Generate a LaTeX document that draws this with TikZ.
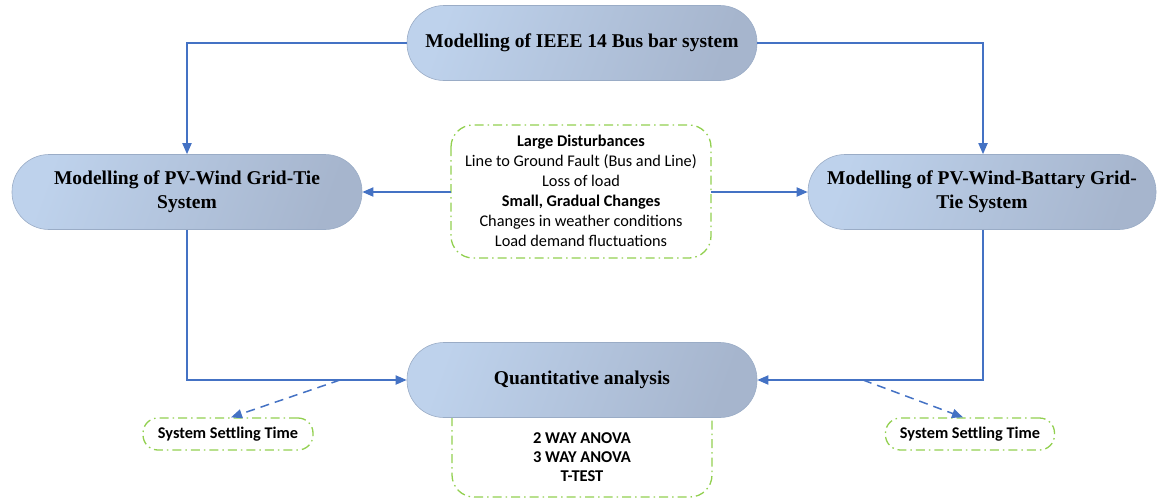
\documentclass[tikz,border=0pt]{standalone}
\usepackage{fontspec}
\setmainfont{Liberation Serif}
\newfontfamily\calfont{Carlito}
\usetikzlibrary{arrows.meta}
\definecolor{lineblue}{HTML}{4472C4}
\definecolor{nodeL}{HTML}{BED2EC}
\definecolor{nodeR}{HTML}{A6B5CD}
\definecolor{nodeBorder}{HTML}{9AACC6}
\definecolor{dgreen}{HTML}{92D050}
\tikzset{
  pill/.style={draw=nodeBorder, line width=0.6pt, top color=nodeL, bottom color=nodeR, shading angle=70,
    rounded corners=37pt, minimum width=350pt, minimum height=75pt, align=center,
    font=\fontsize{19.5}{24}\selectfont\bfseries, inner sep=2pt},
  greenbox/.style={draw=dgreen, line width=1.3pt, dash pattern=on 9pt off 4pt on 1.5pt off 4pt},
  conn/.style={draw=lineblue, line width=1.8pt, -{Triangle[length=11pt,width=9pt]}},
  dconn/.style={draw=lineblue, line width=1.5pt, dash pattern=on 9pt off 6pt, -{Triangle[length=11pt,width=9pt]}},
  note/.style={font=\calfont\fontsize{16.3}{20}\selectfont, align=center},
  settle/.style={greenbox, rounded corners=15pt, minimum height=32pt,
    font=\calfont\fontsize{16.3}{19}\selectfont\bfseries},
}
\begin{document}
\begin{tikzpicture}[x=1pt,y=-1pt]
\useasboundingbox (0,0) rectangle (1158,499);
% bottom dashed box (behind node)
\draw[greenbox, rounded corners=22pt] (452,395) rectangle (712,497);
\node[note, font=\calfont\fontsize{16.5}{19}\selectfont\bfseries] (stats) at (582,457) {2 WAY ANOVA\\3 WAY ANOVA\\T-TEST};

\node[pill] (top) at (582,43) {Modelling of IEEE 14 Bus bar system};
\node[pill] (left) at (187,192) {Modelling of PV-Wind Grid-Tie\\System};
\node[pill, minimum width=348pt] (right) at (982,192) {Modelling of PV-Wind-Battary Grid-\\Tie System};
\node[pill] (bottom) at (582,380) {Quantitative analysis};

% middle dashed box
\draw[greenbox, rounded corners=22pt] (451,125) rectangle (711,258);
\node[note] (dist) at (581,191) {\textbf{Large Disturbances}\\Line to Ground Fault (Bus and Line)\\Loss of load\\\textbf{Small, Gradual Changes}\\Changes in weather conditions\\Load demand fluctuations};
\coordinate (distL) at (451,192);
\coordinate (distR) at (711,192);

% settling boxes
\node[settle, minimum width=170pt] (setL) at (228,434) {System Settling Time};
\node[settle, minimum width=169pt] (setR) at (970,434) {System Settling Time};

% connectors
\path[conn] (top.west) -| (left.north);
\path[conn] (top.east) -| ([xshift=1pt]right.north);
\path[conn] (distL) -- (left.east);
\path[conn] (distR) -- (right.west);
\path[conn] (left.south) |- (bottom.west);
\path[conn] ([xshift=1pt]right.south) |- (bottom.east);
\coordinate (dl) at (340,380);
\coordinate (dr) at (863,380);
\path[dconn] (dl) -- ([xshift=3pt]setL.north);
\path[dconn] (dr) -- ([xshift=-7pt]setR.north);
\end{tikzpicture}
\end{document}
